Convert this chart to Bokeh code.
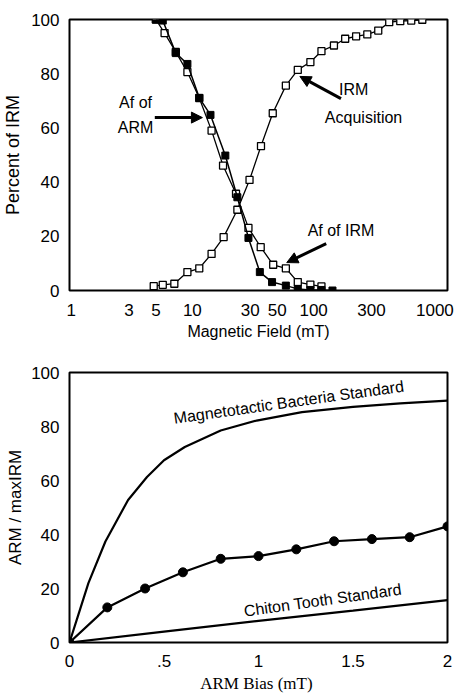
from bokeh.plotting import figure
from bokeh.layouts import column
from bokeh.models import FixedTicker, Label, Arrow, NormalHead, Range1d
from bokeh.embed import file_html
from bokeh.resources import INLINE

# ---------------- data: top panel ----------------
irm_acq_field = [4.8, 5.7, 7.1, 9.1, 11.4, 14.4, 18.1, 23.5, 29.6, 36.8, 46, 59, 74, 94,
                 116, 147, 182, 224, 277, 341, 420, 518, 638, 787]
irm_acq_pct = [1.6, 2.1, 2.5, 6.8, 8.2, 13.5, 19.7, 29.8, 40.8, 53.3, 65.4, 75.6, 81.4, 84.3,
               88.3, 90.4, 92.9, 93.8, 94.5, 95.9, 99.0, 99.4, 99.6, 99.9]

af_arm_field = [5.0, 5.7, 7.3, 9.1, 11.4, 14.1, 18.7, 23.5, 29, 36, 45.4, 59, 74, 94, 116, 143]
af_arm_pct = [100, 99.6, 87.6, 83.6, 71.1, 64.8, 49.8, 34.4, 19.4, 6.8, 3.1, 1.8, 0.6, 0.2, 0.2, 0.0]

af_irm_field = [5.0, 5.9, 7.3, 9.1, 11.4, 14.4, 17.9, 22.9, 29, 36.6, 46.4, 59, 74, 94, 116]
af_irm_pct = [100, 95, 88, 80.6, 71, 59, 46.1, 35.7, 23.1, 16, 9.5, 8.2, 3.1, 2.2, 1.5]

top_xticks = [1, 3, 5, 10, 30, 50, 100, 300, 1000]
top_xtick_labels = ["1", "3", "5", "10", "30", "50", "100", "300", "1000"]
top_yticks = [0, 20, 40, 60, 80, 100]

# ---------------- data: bottom panel ----------------
bias = [0, 0.2, 0.4, 0.6, 0.8, 1.0, 1.2, 1.4, 1.6, 1.8, 2.0]
arm_ratio = [0, 13, 20, 26, 31, 32, 34.5, 37.5, 38.3, 39, 43]

mag_bias = [0, 0.05, 0.1, 0.19, 0.31, 0.41, 0.5, 0.61, 0.8, 0.99, 1.23, 1.5, 1.75, 2.0]
mag_ratio = [0, 11, 22, 37.4, 52.8, 61.3, 67.5, 72.4, 78.5, 82.2, 85.3, 87.3, 88.6, 89.6]

chiton_bias = [0, 0.5, 1.0, 1.5, 2.0]
chiton_ratio = [0, 4, 8, 11.8, 15.7]

bot_xticks = [0, 0.5, 1, 1.5, 2]
bot_xtick_labels = ["0", ".5", "1", "1.5", "2"]
bot_yticks = [0, 20, 40, 60, 80, 100]

SANS = "Liberation Sans"
SERIF = "Liberation Serif"


def style(p):
    p.outline_line_color = "black"
    p.outline_line_width = 2
    p.xgrid.visible = False
    p.ygrid.visible = False
    for ax in (p.xaxis[0], p.yaxis[0]):
        ax.axis_line_color = None
        ax.major_tick_line_color = None
        ax.minor_tick_line_color = None
        ax.major_label_text_font = SANS
        ax.major_label_text_font_size = "17px"
        ax.major_label_text_color = "black"
        ax.axis_label_text_font_style = "normal"
        ax.axis_label_text_color = "black"
    p.background_fill_color = "white"
    p.border_fill_color = "white"


# ---------------- top figure ----------------
p1 = figure(width=454, height=342, x_axis_type="log", output_backend="svg",
            toolbar_location=None, x_range=Range1d(0.97, 1270), y_range=Range1d(0, 100),
            min_border_left=65, min_border_right=6, min_border_top=19, min_border_bottom=52)
style(p1)
p1.xaxis.ticker = FixedTicker(ticks=top_xticks, minor_ticks=[])
p1.xaxis.major_label_overrides = {t: l for t, l in zip(top_xticks, top_xtick_labels)}
p1.yaxis.ticker = FixedTicker(ticks=top_yticks, minor_ticks=[])
p1.xaxis.major_label_standoff = 7
p1.yaxis.major_label_standoff = 4
p1.xaxis.axis_label = "Magnetic Field (mT)"
p1.xaxis.axis_label_text_font = SANS
p1.xaxis.axis_label_text_font_size = "16px"
p1.xaxis.axis_label_standoff = 4
p1.yaxis.axis_label = "Percent of IRM"
p1.yaxis.axis_label_text_font = SANS
p1.yaxis.axis_label_text_font_size = "18px"
p1.yaxis.axis_label_standoff = 5

p1.line(irm_acq_field, irm_acq_pct, line_color="black", line_width=1.3)
p1.scatter(irm_acq_field, irm_acq_pct, marker="square", size=7, fill_color="white",
           line_color="black", line_width=1.3)
p1.line(af_irm_field, af_irm_pct, line_color="black", line_width=1.3)
p1.scatter(af_irm_field, af_irm_pct, marker="square", size=7, fill_color="white",
           line_color="black", line_width=1.3)
p1.line(af_arm_field, af_arm_pct, line_color="black", line_width=1.5)
p1.scatter(af_arm_field, af_arm_pct, marker="square", size=7, fill_color="black",
           line_color="black", line_width=1)

for txt, x, y in [("Af of", 3.4, 69.5), ("ARM", 3.4, 60), ("IRM", 214, 74),
                  ("Acquisition", 258, 64), ("Af of IRM", 168, 22)]:
    p1.add_layout(Label(x=x, y=y, text=txt, text_align="center", text_baseline="middle",
                        text_font=SANS, text_font_size="16px", text_color="black"))

for xs, ys, xe, ye in [(4.9, 63.8, 12.1, 63.8), (168, 70.8, 77, 79), (127, 17.3, 60, 10.3)]:
    p1.add_layout(Arrow(end=NormalHead(size=11, fill_color="black", line_color="black"),
                        x_start=xs, y_start=ys, x_end=xe, y_end=ye,
                        line_width=3, line_color="black"))

# ---------------- bottom figure ----------------
p2 = figure(width=454, height=353, output_backend="svg", toolbar_location=None,
            x_range=Range1d(0, 2), y_range=Range1d(0, 100),
            min_border_left=63, min_border_right=7, min_border_top=30, min_border_bottom=50)
style(p2)
p2.xaxis.ticker = FixedTicker(ticks=bot_xticks, minor_ticks=[])
p2.xaxis.major_label_overrides = {t: l for t, l in zip(bot_xticks, bot_xtick_labels)}
p2.yaxis.ticker = FixedTicker(ticks=bot_yticks, minor_ticks=[])
p2.xaxis.major_label_standoff = 6
p2.yaxis.major_label_standoff = 4
p2.xaxis.axis_label = "ARM  Bias (mT)"
p2.xaxis.axis_label_text_font = SERIF
p2.xaxis.axis_label_text_font_size = "17px"
p2.xaxis.axis_label_standoff = 4
p2.yaxis.axis_label = "ARM / maxIRM"
p2.yaxis.axis_label_text_font = SANS
p2.yaxis.axis_label_text_font_size = "17px"
p2.yaxis.axis_label_standoff = 3

p2.line(mag_bias, mag_ratio, line_color="black", line_width=2.2)
p2.line(chiton_bias, chiton_ratio, line_color="black", line_width=2.2)
p2.line(bias, arm_ratio, line_color="black", line_width=2.2)
p2.scatter(bias, arm_ratio, marker="circle", size=9, fill_color="black", line_color="black")

p2.add_layout(Label(x=1.16, y=89, text="Magnetotactic Bacteria Standard", text_align="center",
                    text_baseline="middle", angle=0.14, text_font=SANS,
                    text_font_size="16px", text_color="black"))
p2.add_layout(Label(x=1.34, y=15.7, text="Chiton Tooth Standard", text_align="center",
                    text_baseline="middle", angle=0.14, text_font=SANS,
                    text_font_size="16px", text_color="black"))

layout = column(p1, p2, spacing=0)
open("out.html", "w").write(file_html(layout, INLINE))
